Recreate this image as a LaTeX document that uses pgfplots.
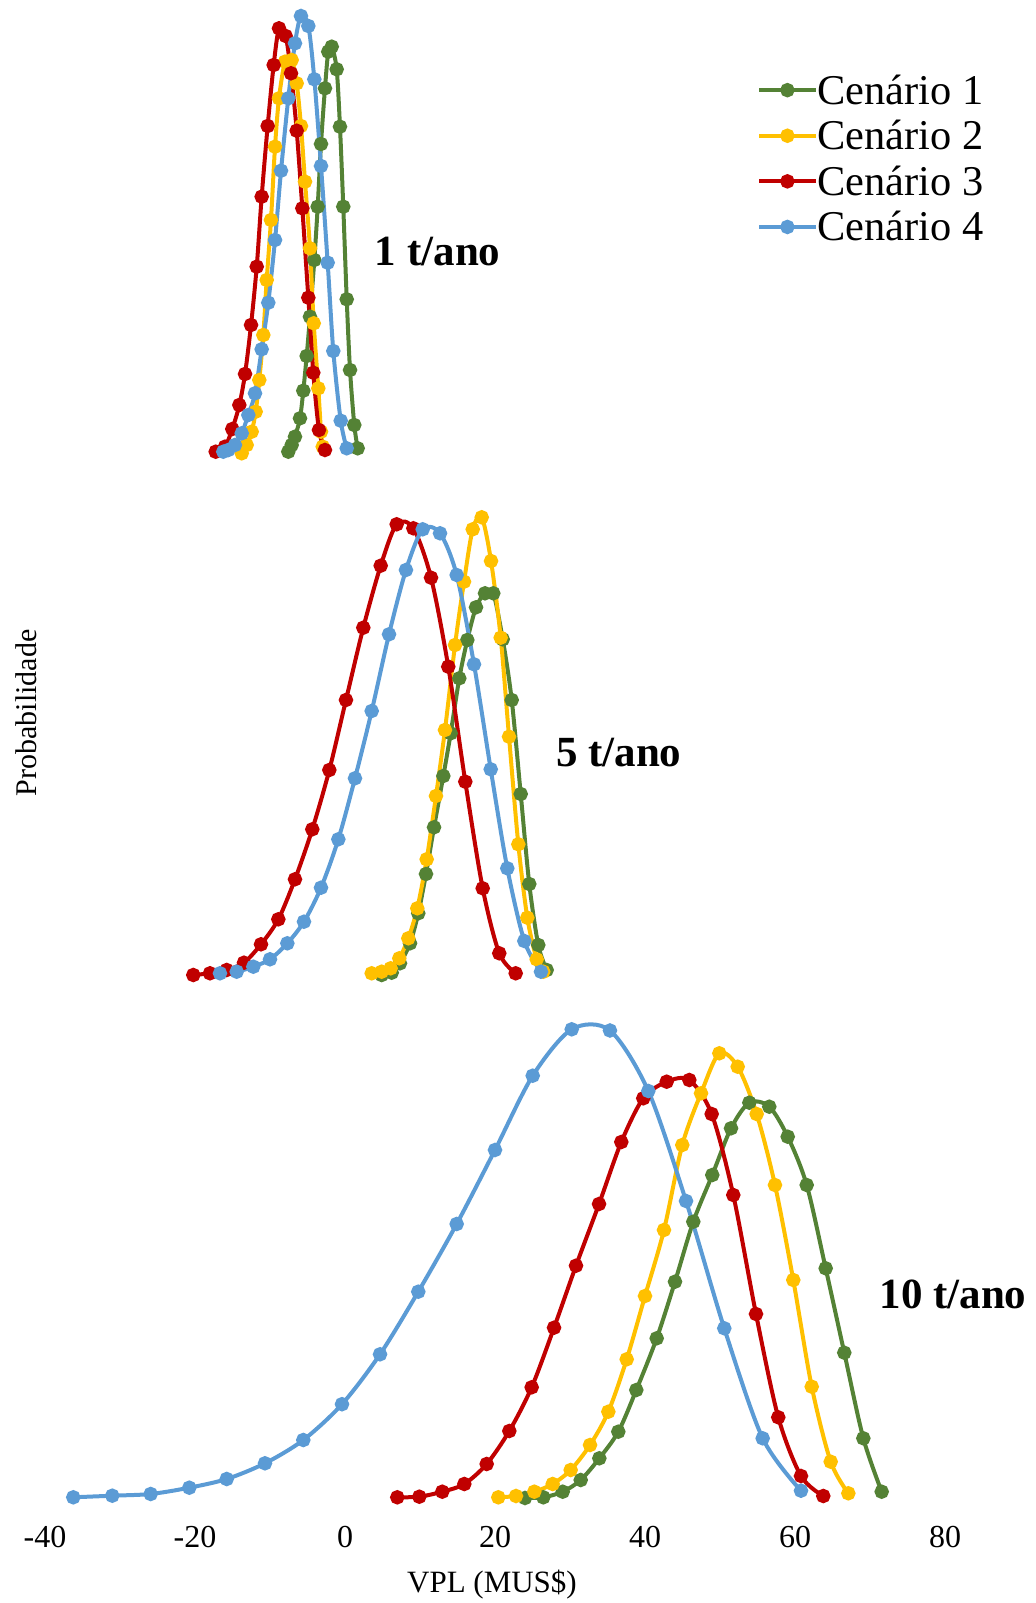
\documentclass[border=0pt]{standalone}
\usepackage{fontspec}
\setmainfont{Liberation Serif}
\usepackage{pgfplots}
\pgfplotsset{compat=1.18}
\definecolor{c1}{HTML}{548235}
\definecolor{c2}{HTML}{FFC000}
\definecolor{c3}{HTML}{C00000}
\definecolor{c4}{HTML}{5B9BD5}
\begin{document}
\begin{tikzpicture}
\begin{axis}[
 at={(0pt,0pt)}, anchor=south west,
 scale only axis, width=518pt, height=750pt,
 xmin=-46, xmax=92.1333, ymin=0, ymax=1500,
 clip=false,
 axis line style={draw=none},
 tick style={draw=none},
 ytick=\empty,
 xtick={-40,-20,0,20,40,60,80},
 /pgf/number format/assume math mode=true,
 xticklabel style={font=\fontsize{16}{16}\selectfont, anchor=base, inner sep=0pt, yshift=-23.5pt},
 xlabel={VPL (MUS\$)},
 xlabel style={font=\fontsize{15.5}{15.5}\selectfont, at={(axis description cs:0.4749,0)}, anchor=base, inner sep=0pt, yshift=-46.25pt},
 ylabel={Probabilidade},
 ylabel style={font=\fontsize{15}{15}\selectfont, at={(axis description cs:0.0355,0.5248)}, anchor=base, inner sep=0pt},
 every axis plot/.append style={smooth, tension=0.5, line width=2pt, mark=*, mark size=2.6pt, mark options={solid}},
 legend style={at={(axis description cs:0.7307,0.9495)}, anchor=north west, draw=none, fill=none, inner sep=0pt,
   font=\fontsize{21.2}{21.2}\selectfont, row sep=8.8pt, column sep=0pt,
   nodes={inner sep=0pt, text height=14pt, text depth=0pt}},
 legend cell align=left,
 legend image code/.code={\draw[#1, mark repeat=2, mark phase=2] plot coordinates {(0pt,0pt) (14pt,0pt) (28pt,0pt)};},
]
% ---------- 1 t/ano ----------
\addplot[c1] coordinates {(-7.56,1048.3) (-7.11,1055) (-6.67,1063.3) (-6.0,1081.7) (-5.56,1109.3) (-5.11,1144) (-4.67,1183.3) (-4.09,1240) (-3.64,1293.3) (-3.2,1356) (-2.67,1411.7) (-2.23,1448.3) (-1.77,1453.3) (-1.11,1430.7) (-0.67,1373.3) (-0.23,1293.3) (0.23,1200.7) (0.67,1130) (1.24,1075) (1.69,1051.7)};
\addlegendentry{Cenário 1}
\addplot[c2] coordinates {(-13.77,1046.7) (-13.11,1055) (-12.44,1068.3) (-11.91,1088.3) (-11.43,1120) (-10.89,1165) (-10.44,1220) (-9.87,1280) (-9.33,1353.3) (-8.8,1401.7) (-8.0,1438.3) (-7.11,1440) (-6.44,1416.7) (-5.87,1374) (-5.33,1318.3) (-4.67,1251.7) (-4.17,1176.7) (-3.56,1111.7) (-3.2,1068.3) (-2.97,1053.3)};
\addlegendentry{Cenário 2}
\addplot[c3] coordinates {(-17.24,1048.3) (-16.0,1053.3) (-15.03,1071) (-14.09,1095) (-13.33,1126) (-12.53,1175) (-11.77,1233.3) (-11.11,1303.3) (-10.31,1374) (-9.51,1435) (-8.8,1471.7) (-7.91,1464) (-7.2,1426.7) (-6.44,1369.3) (-5.69,1291.7) (-4.89,1202.3) (-4.23,1127.3) (-3.47,1070) (-2.67,1050)};
\addlegendentry{Cenário 3}
\addplot[c4] coordinates {(-16.23,1048.3) (-15.56,1050) (-14.67,1055) (-13.77,1066.7) (-12.89,1085) (-12.0,1106.7) (-11.11,1150.7) (-10.23,1197.3) (-9.33,1260) (-8.53,1329.3) (-7.56,1401.7) (-6.67,1456.7) (-5.87,1484) (-4.89,1474) (-4.09,1420.7) (-3.2,1334) (-2.31,1237.3) (-1.56,1149) (-0.57,1079.3) (0.23,1051.7)};
\addlegendentry{Cenário 4}
% ---------- 5 t/ano ----------
\addplot[c1, forget plot] coordinates {(4.89,525) (6.23,527.3) (7.33,536.7) (8.67,556.7) (9.77,586.7) (10.8,626) (11.87,672.7) (13.11,724) (14.09,766.7) (15.24,821.7) (16.31,860) (17.47,892.7) (18.67,906.7) (19.77,906.7) (21.03,860.7) (22.23,800) (23.43,706) (24.57,616) (25.77,555) (26.89,530)};
\addplot[c2, forget plot] coordinates {(3.56,526.7) (4.89,528.3) (6.09,531.7) (7.24,541.7) (8.44,561.7) (9.64,591.7) (10.89,640.7) (12.13,704) (13.33,770) (14.67,855) (15.87,918.3) (17.03,970.7) (18.23,982.7) (19.47,939) (20.76,862.3) (21.87,763.3) (23.11,655.7) (24.31,582.3) (25.56,540.7) (26.44,528.3)};
\addplot[c3, forget plot] coordinates {(-20.23,525) (-18.0,526.7) (-15.77,530) (-13.47,537.3) (-11.2,555.7) (-8.89,580.7) (-6.67,620.7) (-4.36,670.7) (-2.09,730) (0.13,800) (2.44,872.3) (4.76,934.3) (6.89,975.7) (9.11,971.7) (11.47,922.3) (13.77,833.3) (16.04,718.3) (18.36,611.7) (20.57,546.7) (22.76,526.7)};
\addplot[c4, forget plot] coordinates {(-16.67,526.7) (-14.44,528.3) (-12.23,533.3) (-10.0,540.7) (-7.69,556.7) (-5.47,578.3) (-3.2,612.3) (-0.89,660.7) (1.33,721.7) (3.56,789) (5.87,865.7) (8.13,930) (10.36,970.7) (12.67,966.7) (14.89,925) (17.2,835.7) (19.43,730.7) (21.64,631.7) (23.91,559) (26.13,528.3)};
% ---------- 10 t/ano ----------
\addplot[c1, forget plot] coordinates {(24.0,2) (26.44,2.7) (29.03,8.3) (31.43,20) (33.91,41.7) (36.44,68.3) (38.84,110) (41.56,161.7) (44.0,218.3) (46.44,278.3) (48.97,325) (51.47,371.7) (53.91,397.3) (56.57,393.3) (59.03,363.3) (61.56,315) (64.09,231.7) (66.57,147.3) (69.11,61.7) (71.56,8.3)};
\addplot[c2, forget plot] coordinates {(20.44,2.7) (22.8,4) (25.24,8.3) (27.69,16) (30.09,30) (32.67,55) (35.11,88.3) (37.56,140.7) (40.0,204) (42.53,270) (44.97,355) (47.47,406.7) (49.91,446.7) (52.36,433.3) (54.89,386) (57.33,315) (59.77,220) (62.23,113.3) (64.76,38.3) (67.11,6.7)};
\addplot[c3, forget plot] coordinates {(6.97,2.7) (9.91,3.3) (12.97,8.3) (15.91,16) (18.89,36) (21.91,69) (24.89,112.7) (27.87,172.3) (30.8,234.3) (33.87,296) (36.84,358) (39.77,401.7) (42.89,418.3) (45.91,420) (48.89,386) (51.77,305) (54.8,186) (57.77,82.7) (60.8,24) (63.77,4)};
\addplot[c4, forget plot] coordinates {(-36.23,2.7) (-31.03,4.3) (-25.91,6) (-20.76,12.3) (-15.77,21) (-10.67,36.7) (-5.56,60) (-0.4,95.8) (4.67,145.7) (9.77,208.3) (14.89,276) (20.0,350) (25.03,424.3) (30.23,470.7) (35.33,469.5) (40.44,409) (45.47,299) (50.57,171.7) (55.69,61.7) (60.8,9.3)};
% ---------- group labels ----------
\node[font=\bfseries\fontsize{21.5}{21.5}\selectfont, anchor=base, inner sep=0pt] at (axis cs:12.36,1234) {1 t/ano};
\node[font=\bfseries\fontsize{21.5}{21.5}\selectfont, anchor=base, inner sep=0pt] at (axis cs:36.5,733) {5 t/ano};
\node[font=\bfseries\fontsize{21.5}{21.5}\selectfont, anchor=base, inner sep=0pt] at (axis cs:81.07,191) {10 t/ano};
\end{axis}
\pgfresetboundingbox
\path[use as bounding box] (0pt,-51.5pt) rectangle (518pt,750pt);
\end{tikzpicture}
\end{document}
